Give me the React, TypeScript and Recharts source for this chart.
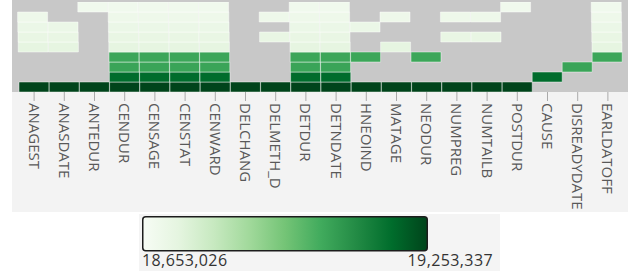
import { Bar, BarChart, Cell, XAxis, YAxis } from 'recharts';

const columns = [
  'ANAGEST', 'ANASDATE', 'ANTEDUR', 'CENDUR', 'CENSAGE', 'CENSTAT', 'CENWARD',
  'DELCHANG', 'DELMETH_D', 'DETDUR', 'DETNDATE', 'HNEOIND', 'MATAGE', 'NEODUR',
  'NUMPREG', 'NUMTAILB', 'POSTDUR', 'CAUSE', 'DISREADYDATE', 'EARLDATOFF',
];

const scaleMin = 18653026;
const scaleMax = 19253337;

const _ = null;
// rows listed bottom to top, one value per column (null = no cell)
const D = 19253337;
const C = 19180000;
const B = 19045000;
const A = 19040000;
const row1 = [D, D, D, D, D, D, D, D, D, D, D, D, D, D, D, D, D, _, _, _];
const row2 = [_, _, _, C, C, C, C, _, _, C, C, _, _, _, _, _, _, C, _, _];
const row3 = [_, _, _, B, B, B, B, _, _, B, B, _, _, _, _, _, _, _, B, _];
const row4 = [_, _, _, A, A, A, A, _, _, A, A, A, _, A, _, _, _, _, _, A];
const row5 = [18724000, 18724000, _, 18724000, 18724000, 18724000, 18724000, _, _, 18724000, 18724000, _, 18724000, _, _, _, _, _, _, 18724000];
const row6 = [18712000, 18712000, _, 18712000, 18712000, 18712000, 18712000, _, 18712000, 18712000, 18712000, _, _, _, 18712000, 18712000, _, _, _, 18712000];
const row7 = [18702000, 18702000, _, 18702000, 18702000, 18702000, 18702000, _, _, 18702000, 18702000, 18702000, _, _, _, _, _, _, _, 18702000];
const row8 = [18692000, _, _, 18692000, 18692000, 18692000, 18692000, _, 18692000, 18692000, 18692000, _, 18692000, _, 18692000, 18692000, _, _, _, 18692000];
const row9 = [_, _, 18682000, 18682000, 18682000, 18682000, 18682000, _, _, 18682000, 18682000, _, _, _, _, _, 18682000, _, _, 18682000];

const rows = [row1, row2, row3, row4, row5, row6, row7, row8, row9];

const greens = ['#f7fcf5', '#e5f5e0', '#c7e9c0', '#a1d99b', '#74c476', '#41ab5d', '#238b45', '#006d2c', '#00441b'];

const data = columns.map((name, i) => {
  const d: Record<string, any> = { name };
  rows.forEach((r, j) => {
    d[`r${j}`] = r[i];
  });
  return d;
});

function hex(c: string) {
  return [1, 3, 5].map(k => parseInt(c.slice(k, k + 2), 16));
}

function colorFor(v: number) {
  const t = Math.max(0, Math.min(1, (v - scaleMin) / (scaleMax - scaleMin)));
  const p = t * (greens.length - 1);
  const i = Math.min(greens.length - 2, Math.floor(p));
  const f = p - i;
  const a = hex(greens[i]);
  const b = hex(greens[i + 1]);
  const m = a.map((x, k) => Math.round(x + (b[k] - x) * f));
  return `rgb(${m[0]},${m[1]},${m[2]})`;
}

const Tick = (props: any) => {
  const { x, y, payload } = props;
  return (
    <text
      x={0}
      y={0}
      dy="0.36em"
      transform={`translate(${x},${y}) rotate(90)`}
      textAnchor="start"
      fill="#595959"
      fontSize={15}
      fontFamily="Open Sans"
    >
      {payload.value}
    </text>
  );
};

export default function App() {
  return (
    <div style={{ position: 'relative', width: 629, height: 275, background: '#fff' }}>
      <style>{'body{margin:0}'}</style>
      <div style={{ position: 'absolute', left: 12, top: 0, width: 616, height: 92, background: '#c8c8c8' }} />
      <div style={{ position: 'absolute', left: 12, top: 92, width: 616, height: 120, background: '#f3f3f3' }} />
      <div style={{ position: 'absolute', left: 0, top: 0 }}>
        <BarChart
          width={629}
          height={212}
          data={data}
          margin={{ top: 2, right: 6, left: 19, bottom: 0 }}
          barGap="-100%"
          barCategoryGap={0}
        >
          <XAxis
            dataKey="name"
            interval={0}
            axisLine={false}
            tickLine={{ stroke: '#aaa' }}
            tickSize={9}
            height={120}
            tick={<Tick />}
          />
          <YAxis hide type="number" domain={[0, 9]} allowDataOverflow />
          {rows.map((r, j) => (
            <Bar
              key={j}
              dataKey={(d: any) => (d[`r${j}`] == null ? null : [j, j + 1])}
              isAnimationActive={false}
              stroke="rgba(255,255,255,0.45)"
              strokeWidth={1}
            >
              {data.map((d, i) => (
                <Cell key={i} fill={r[i] == null ? 'none' : colorFor(r[i] as number)} />
              ))}
            </Bar>
          ))}
        </BarChart>
      </div>
      <div style={{ position: 'absolute', left: 139, top: 214, width: 361, height: 57, background: '#f4f4f4' }}>
        <svg width={361} height={57}>
          <defs>
            <linearGradient id="legendGrad" x1="0" y1="0" x2="1" y2="0">
              {greens.map((c, i) => (
                <stop key={i} offset={i / (greens.length - 1)} stopColor={c} />
              ))}
            </linearGradient>
          </defs>
          <rect x={3.75} y={2.75} width={284.5} height={34} rx={3} fill="url(#legendGrad)" stroke="#1c1c1c" strokeWidth={1.5} />
          <text x={3} y={52} fontSize={16} fontFamily="Open Sans" fill="#333" letterSpacing={0.4}>
            {scaleMin.toLocaleString('en-US')}
          </text>
          <text x={354} y={52} textAnchor="end" fontSize={16} fontFamily="Open Sans" fill="#333" letterSpacing={0.4}>
            {scaleMax.toLocaleString('en-US')}
          </text>
        </svg>
      </div>
    </div>
  );
}
